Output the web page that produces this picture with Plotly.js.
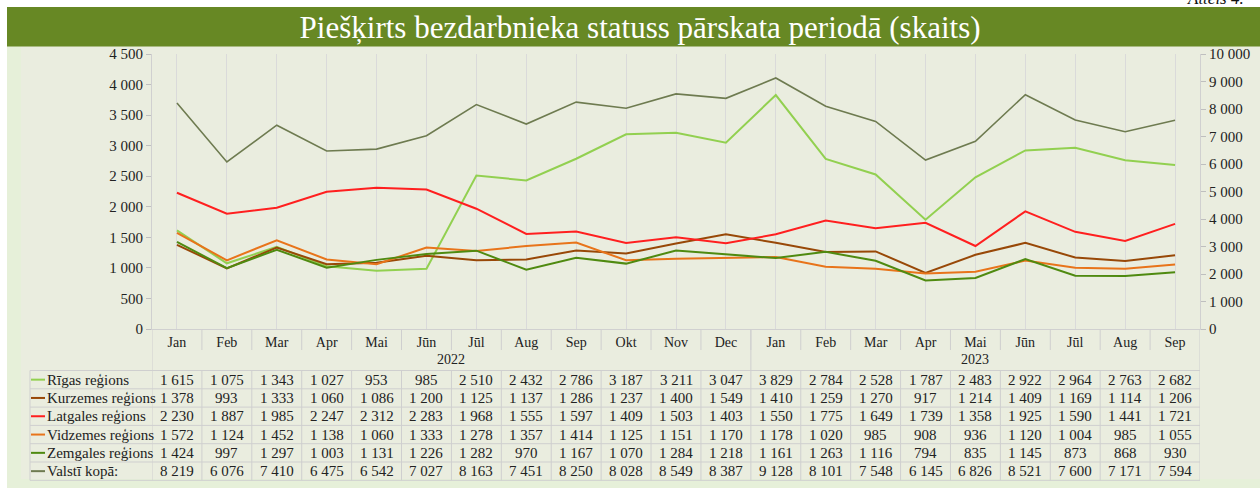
<!DOCTYPE html>
<html>
<head>
<meta charset="utf-8">
<script src="https://cdn.plot.ly/plotly-3.0.1.min.js"></script>
<style>html,body{margin:0;padding:0;background:#fff;}#chart{width:1260px;height:488px;}</style>
</head>
<body>
<div id="chart"></div>
<script>
var months = ['Jan','Feb','Mar','Apr','Mai','Jūn','Jūl','Aug','Sep','Okt','Nov','Dec','Jan','Feb','Mar','Apr','Mai','Jūn','Jūl','Aug','Sep'];
var years = ['2022','2023'];
var yearCounts = [12, 9];
var riga  = [1615,1075,1343,1027,953,985,2510,2432,2786,3187,3211,3047,3829,2784,2528,1787,2483,2922,2964,2763,2682];
var kurz  = [1378,993,1333,1060,1086,1200,1125,1137,1286,1237,1400,1549,1410,1259,1270,917,1214,1409,1169,1114,1206];
var latg  = [2230,1887,1985,2247,2312,2283,1968,1555,1597,1409,1503,1403,1550,1775,1649,1739,1358,1925,1590,1441,1721];
var vidz  = [1572,1124,1452,1138,1060,1333,1278,1357,1414,1125,1151,1170,1178,1020,985,908,936,1120,1004,985,1055];
var zemg  = [1424,997,1297,1003,1131,1226,1282,970,1167,1070,1284,1218,1161,1263,1116,794,835,1145,873,868,930];
var total = [8219,6076,7410,6475,6542,7027,8163,7451,8250,8028,8549,8387,9128,8101,7548,6145,6826,8521,7600,7171,7594];
var seriesNames = ['Rīgas reģions','Kurzemes reģions','Latgales reģions','Vidzemes reģions','Zemgales reģions','Valstī kopā:'];

var seriesData = [riga, kurz, latg, vidz, zemg, total];
var colors = ['#92D050','#984807','#FF1F1F','#E8741A','#4F8A10','#6E7B50'];
var widths = [2, 2, 2, 2, 2, 1.6];
var idx = months.map(function(_, i){ return i; });

// pixel -> paper helpers (plot area: x 152..1200, y 54..329)
var L = 152, R = 1200, T = 54, B = 329;
function xp(px){ return (px - L) / (R - L); }
function yp(px){ return (B - px) / (B - T); }

var traces = [];
for (var s = 0; s < seriesData.length; s++) {
  traces.push({
    type: 'scatter', mode: 'lines', x: idx, y: seriesData[s], name: seriesNames[s],
    yaxis: s === 5 ? 'y2' : 'y',
    line: {color: colors[s], width: widths[s]}, hoverinfo: 'skip'
  });
}

var font = '"Liberation Serif", "Times New Roman", serif';
var shapes = [];
var annotations = [];
// backgrounds
shapes.push({type:'rect', xref:'paper', yref:'paper', x0:xp(7), x1:xp(1260), y0:yp(488), y1:yp(46), fillcolor:'#E6F0D9', line:{width:0}, layer:'below'});
shapes.push({type:'rect', xref:'paper', yref:'paper', x0:xp(21), x1:xp(1260), y0:yp(479), y1:yp(46), fillcolor:'#EAEDDF', line:{width:0}, layer:'below'});
shapes.push({type:'rect', xref:'paper', yref:'paper', x0:xp(7), x1:xp(1260), y0:yp(46.5), y1:yp(7), fillcolor:'#678824', line:{width:0}, layer:'below'});

var gcol = '#CFCFCF';
// month separators
for (var k = 0; k < months.length - 1; k++) {
  shapes.push({type:'line', xref:'x', yref:'paper', x0:k+0.5, x1:k+0.5, y0:yp(350), y1:yp(329), line:{color:gcol, width:1}});
}
// year separators (left, between years, right)
var acc = 0;
var yb = [-0.5];
for (var j = 0; j < years.length; j++) {
  var c = acc + (yearCounts[j] - 1) / 2;
  annotations.push({xref:'x', yref:'paper', x:c, y:yp(359), xanchor:'center', yanchor:'middle', text:years[j], showarrow:false, font:{family:font, size:14, color:'#222'}});
  acc += yearCounts[j];
  yb.push(acc - 0.5);
}
yb.forEach(function(b){
  shapes.push({type:'line', xref:'x', yref:'paper', x0:b, x1:b, y0:yp(371), y1:yp(329), line:{color:gcol, width:1}});
});

// table
var rowTop = 370.5, rowH = 18.3;
for (var r = 0; r <= seriesData.length; r++) {
  var yy = rowTop + r * rowH;
  shapes.push({type:'line', xref:'paper', yref:'paper', x0:xp(30), x1:xp(1200), y0:yp(yy), y1:yp(yy), line:{color:gcol, width:1}});
}
shapes.push({type:'line', xref:'paper', yref:'paper', x0:xp(30), x1:xp(30), y0:yp(rowTop + seriesData.length*rowH), y1:yp(rowTop), line:{color:gcol, width:1}});
for (var k2 = 0; k2 <= months.length; k2++) {
  var bx = k2 - 0.5;
  shapes.push({type:'line', xref:'x', yref:'paper', x0:bx, x1:bx, y0:yp(rowTop + seriesData.length*rowH), y1:yp(rowTop), line:{color:gcol, width:1}});
}
function fmt(v){ return String(v).replace(/\B(?=(\d{3})+(?!\d))/g, '\u00a0'); }
for (var s2 = 0; s2 < seriesData.length; s2++) {
  var cy = rowTop + s2 * rowH + rowH / 2;
  shapes.push({type:'line', xref:'paper', yref:'paper', x0:xp(31), x1:xp(45), y0:yp(cy), y1:yp(cy), line:{color:colors[s2], width:2}});
  annotations.push({xref:'paper', yref:'paper', x:xp(45), y:yp(cy), xanchor:'left', yanchor:'middle', text:seriesNames[s2], showarrow:false, font:{family:font, size:15, color:'#222'}});
  for (var m = 0; m < months.length; m++) {
    annotations.push({xref:'x', yref:'paper', x:m, y:yp(cy), xanchor:'center', yanchor:'middle', text:fmt(seriesData[s2][m]), showarrow:false, font:{family:font, size:15, color:'#222'}});
  }
}
// figure label, cut at top
annotations.push({xref:'paper', yref:'paper', x:xp(1186), y:yp(9), xanchor:'left', yanchor:'bottom', text:'<i>Attēls 4.</i>', showarrow:false, borderpad:0, font:{family:font, size:17, color:'#111'}});

var layout = {
  width: 1260, height: 488,
  margin: {l: L, r: 1260 - R, t: T, b: 488 - B, pad: 0},
  paper_bgcolor: '#FFFFFF', plot_bgcolor: 'rgba(0,0,0,0)',
  showlegend: false,
  separators: ', ',
  title: {text: 'Piešķirts bezdarbnieka statuss pārskata periodā (skaits)', xref:'container', yref:'container', x: 0.508, xanchor:'center', y: 1 - 27/488, yanchor:'middle', font: {family: font, size: 31, color: '#FFFFFF'}},
  xaxis: {
    range: [-0.5, months.length - 0.5], tickvals: idx, ticktext: months, ticks: '',
    showgrid: true, gridcolor: '#DADADA', gridwidth: 1, zeroline: false,
    showline: true, linecolor: '#D0D0D0', linewidth: 1,
    tickfont: {family: font, size: 14, color: '#222'}, fixedrange: true
  },
  yaxis: {
    range: [0, 4500], dtick: 500, tickformat: ',d', showgrid: false, zeroline: false,
    showline: true, linecolor: '#D0D0D0', ticks: 'outside', ticklen: 5, tickcolor: '#BFBFBF',
    tickfont: {family: font, size: 15, color: '#222'}, fixedrange: true
  },
  yaxis2: {
    range: [0, 10000], dtick: 1000, tickformat: ',d', overlaying: 'y', side: 'right', showgrid: false, zeroline: false,
    showline: true, linecolor: '#D0D0D0', ticks: 'outside', ticklen: 5, tickcolor: '#BFBFBF',
    tickfont: {family: font, size: 15, color: '#222'}, fixedrange: true
  },
  shapes: shapes,
  annotations: annotations
};
Plotly.newPlot('chart', traces, layout, {staticPlot: true, displayModeBar: false});
</script>
</body>
</html>
